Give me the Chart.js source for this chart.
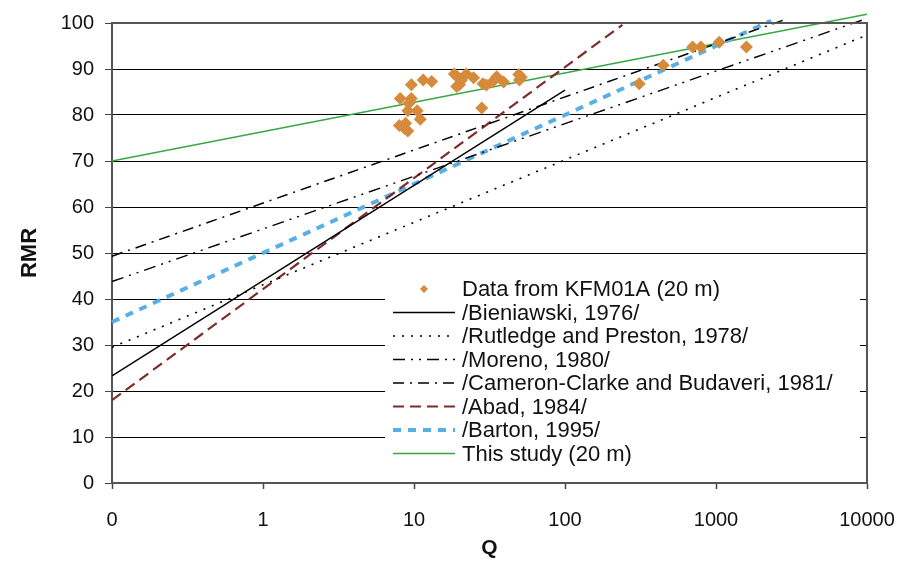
<!DOCTYPE html>
<html><head><meta charset="utf-8">
<script src="https://cdn.jsdelivr.net/npm/chart.js@4.4.1/dist/chart.umd.min.js"></script>
<style>html,body{margin:0;padding:0;background:#fff}#wrap{width:914px;height:568px}</style>
</head><body><div id="wrap"><canvas id="c"></canvas></div>
<script>
// axis ticks
const xTicks = [0.1, 1, 10, 100, 1000, 10000];
const xTickLabels = ['0', '1', '10', '100', '1000', '10000'];

// measured data, KFM01A (20 m)
const kfmQ   = [8.0, 8.8, 9.1, 8.7, 8.1, 9.6, 9.25, 9.1, 10.5, 11.0, 9.6, 11.5, 13.1,
                18.5, 19.5, 20.5, 20.0, 19.2, 22.2, 24.8, 28.6, 30.1, 33, 35.3, 39.2,
                49.4, 49.9, 51.3, 28.1, 700, 794, 1050, 1590, 448, 310];
const kfmRMR = [77.7, 78.2, 76.5, 77.0, 83.6, 83.6, 82.5, 80.9, 80.9, 79.1, 86.6, 87.6, 87.3,
                88.9, 88.2, 87.5, 86.6, 86.2, 88.9, 88.1, 86.8, 86.5, 87.2, 88.3, 87.2,
                88.8, 87.6, 88.2, 81.5, 94.8, 94.8, 95.8, 94.8, 90.8, 86.8];

// relations (end points)
const bieniawskiQ = [0.1, 100],    bieniawskiRMR = [23.3, 85.4];
const rutledgeQ   = [0.1, 10000],  rutledgeRMR   = [29.5, 97.4];
const morenoQ     = [0.1, 10000],  morenoRMR     = [43.8, 101];
const cameronQ    = [0.1, 2780],   cameronRMR    = [49.3, 100.6];
const abadQ       = [0.1, 240],    abadRMR       = [18, 99.6];
const bartonQ     = [0.1, 2320],   bartonRMR     = [35, 100.5];
const studyQ      = [0.1, 10000],  studyRMR      = [70, 101.9];

const pts = (xs, ys) => xs.map((x, i) => ({ x, y: ys[i] }));
const FONT = '"Liberation Sans", Arial, Helvetica, sans-serif';
Chart.defaults.font.family = FONT;
Chart.defaults.font.size = 20;
Chart.defaults.color = '#111';

const ln = (label, xs, ys, color, dash, w) => ({
  label, data: pts(xs, ys), showLine: true, borderColor: color, backgroundColor: color,
  borderWidth: w, borderDash: dash, pointRadius: 0, pointHoverRadius: 0, clip: false, tension: 0
});

const datasets = [
  { label: 'Data from KFM01A (20 m)', data: pts(kfmQ, kfmRMR), pointStyle: 'rectRot',
    pointRadius: 6.5, backgroundColor: '#D68A3C', borderColor: '#D68A3C', borderWidth: 0, showLine: false },
  ln('/Bieniawski, 1976/', bieniawskiQ, bieniawskiRMR, '#000', [], 1.4),
  ln('/Rutledge and Preston, 1978/', rutledgeQ, rutledgeRMR, '#000', [2, 7], 1.6),
  ln('/Moreno, 1980/', morenoQ, morenoRMR, '#000', [12, 6, 2, 6, 2, 6], 1.4),
  ln('/Cameron-Clarke and Budaveri, 1981/', cameronQ, cameronRMR, '#000', [11, 6, 2, 6], 1.5),
  ln('/Abad, 1984/', abadQ, abadRMR, '#7E2B2B', [11, 6], 2.2),
  ln('/Barton, 1995/', bartonQ, bartonRMR, '#5AAEE6', [8, 7], 4),
  ln('This study (20 m)', studyQ, studyRMR, '#36A845', [], 1.4)
];

// legend box drawn inside the plot
const LEG = { x: 385, y: 275, w: 475, h: 192, row0: 289, step: 23.5, s0: 393, s1: 455, tx: 462 };
const boxLegend = {
  id: 'boxLegend',
  afterDatasetsDraw(chart) {
    const { ctx, chartArea: a } = chart;
    ctx.save();
    // frame top / right
    ctx.strokeStyle = '#555'; ctx.lineWidth = 2;
    ctx.beginPath(); ctx.moveTo(a.left, a.top); ctx.lineTo(a.right, a.top); ctx.lineTo(a.right, a.bottom); ctx.stroke();
    ctx.fillStyle = '#fff';
    ctx.fillRect(LEG.x, LEG.y, LEG.w, LEG.h);
    ctx.font = '22px ' + FONT; ctx.textBaseline = 'middle'; ctx.textAlign = 'left';
    chart.data.datasets.forEach((d, i) => {
      const y = LEG.row0 + i * LEG.step;
      if (d.showLine) {
        ctx.strokeStyle = d.borderColor; ctx.lineWidth = d.borderWidth;
        ctx.setLineDash(d.borderDash);
        ctx.beginPath(); ctx.moveTo(LEG.s0, y); ctx.lineTo(LEG.s1, y); ctx.stroke();
        ctx.setLineDash([]);
      } else {
        const cx = (LEG.s0 + LEG.s1) / 2, r = 4;
        ctx.fillStyle = d.backgroundColor;
        ctx.beginPath(); ctx.moveTo(cx, y - r); ctx.lineTo(cx + r, y); ctx.lineTo(cx, y + r); ctx.lineTo(cx - r, y); ctx.closePath(); ctx.fill();
      }
      ctx.fillStyle = '#111';
      ctx.fillText(d.label, LEG.tx, y + 1);
    });
    ctx.restore();
  }
};

new Chart(document.getElementById('c'), {
  type: 'scatter',
  data: { datasets },
  options: {
    responsive: true, maintainAspectRatio: false, animation: false,
    layout: { padding: { top: 18, right: 47, left: 0, bottom: 0 } },
    plugins: { legend: { display: false }, tooltip: { enabled: false } },
    scales: {
      x: {
        type: 'logarithmic', min: 0.1, max: 10000,
        afterBuildTicks: s => { s.ticks = xTicks.map(v => ({ value: v })); },
        afterFit: s => { s.height = 85; },
        ticks: { callback: (v, i) => xTickLabels[i], padding: 19, maxRotation: 0, autoSkip: false, color: '#111' },
        grid: { drawOnChartArea: false, tickLength: 6, tickColor: '#444', tickWidth: 1.5 },
        border: { color: '#555', width: 2 },
        title: { display: true, text: 'Q', font: { weight: 'bold', size: 21 }, padding: { top: 0, bottom: 7 }, color: '#111' }
      },
      y: {
        min: 0, max: 100,
        afterFit: s => { s.width = 112; },
        ticks: { stepSize: 10, padding: 11, color: '#111' },
        grid: { color: '#000', lineWidth: 1, tickLength: 7, tickColor: '#444' },
        border: { color: '#555', width: 2 },
        title: { display: true, text: 'RMR', font: { weight: 'bold', size: 22 }, padding: { top: 17, bottom: 0 }, color: '#111' }
      }
    }
  },
  plugins: [boxLegend]
});
</script></body></html>
